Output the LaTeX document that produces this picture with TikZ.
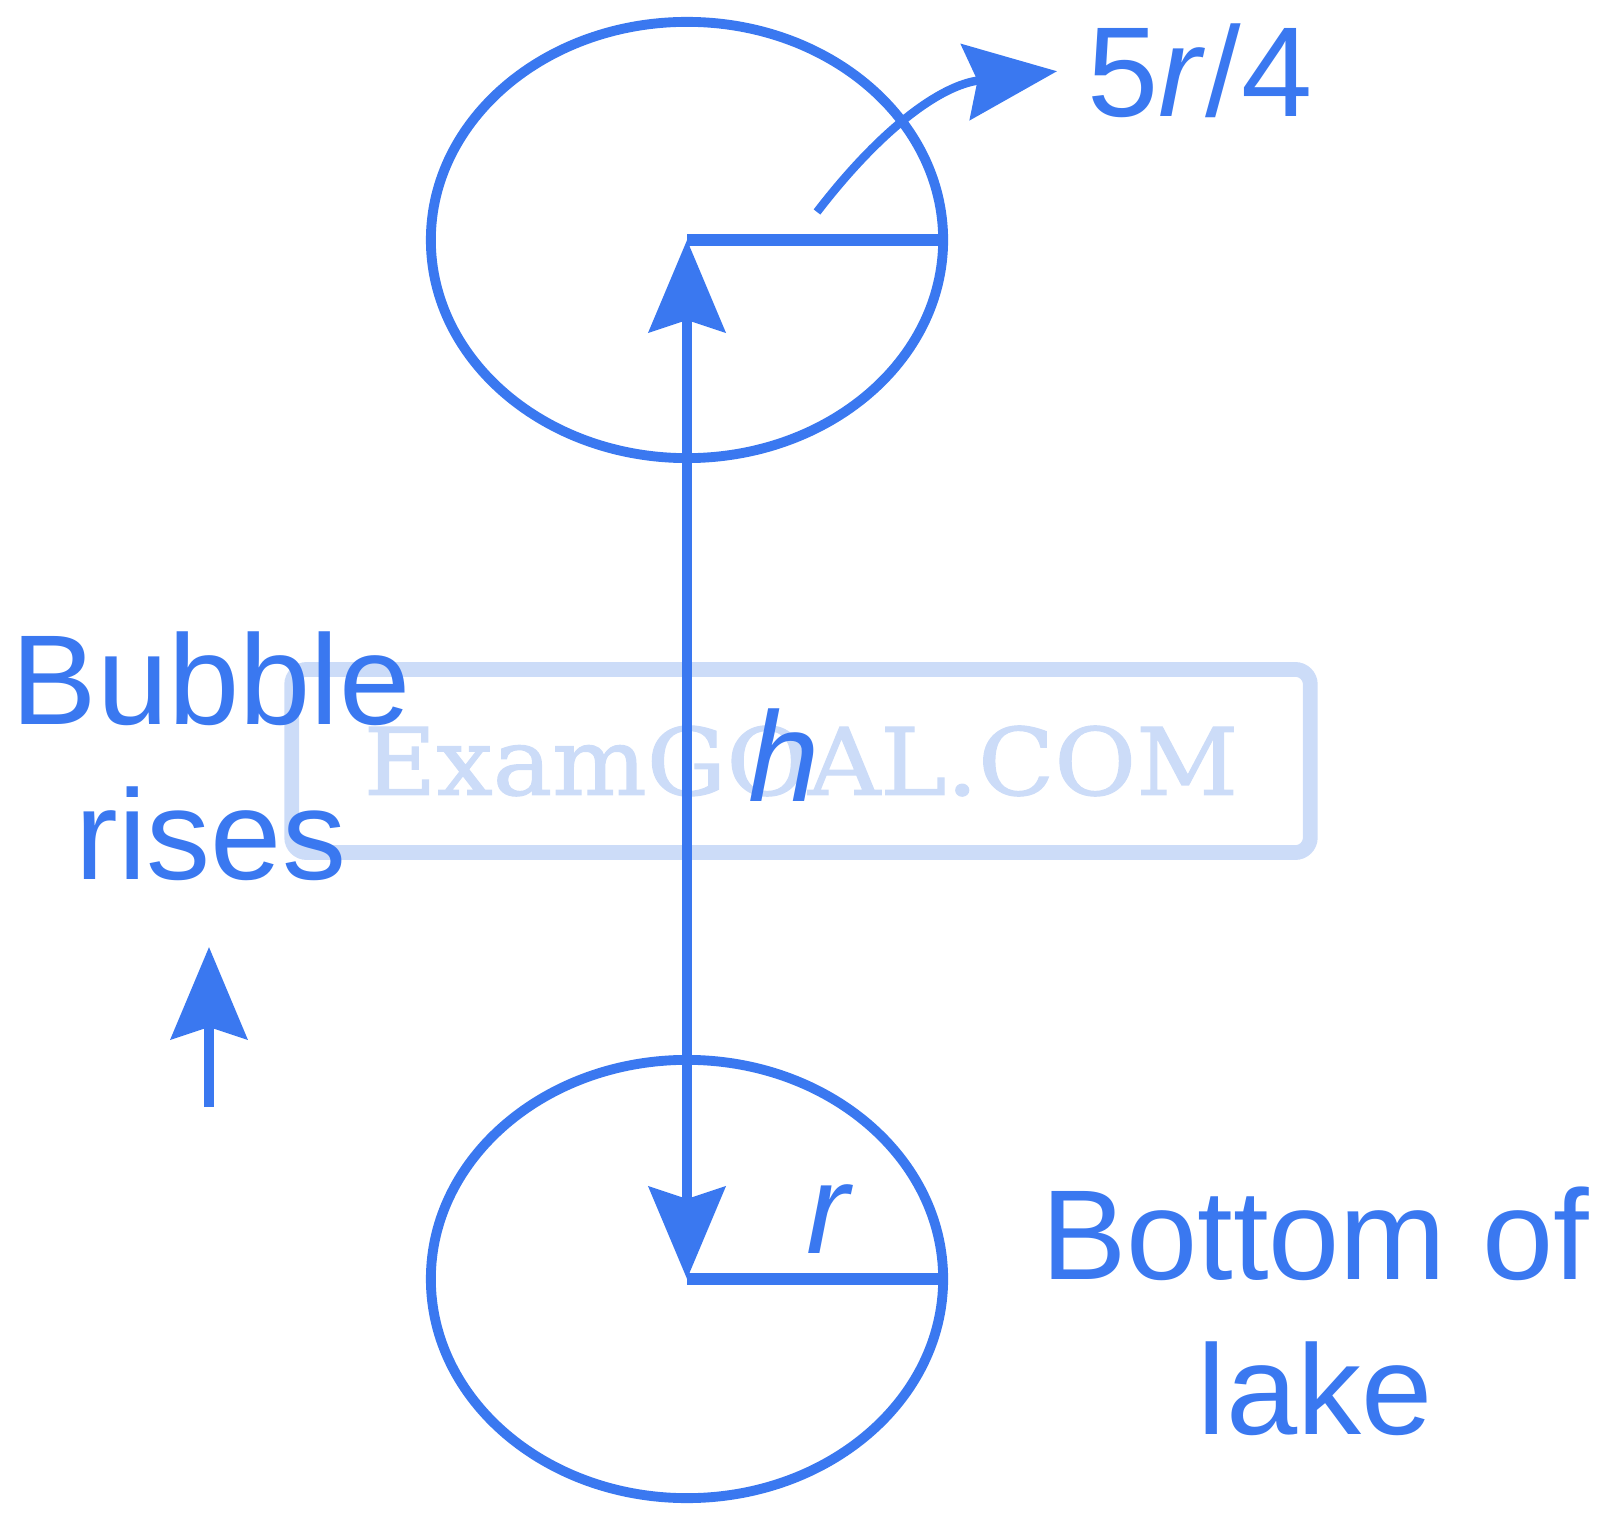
\documentclass[tikz,border=0pt]{standalone}
\usepackage{fontspec}
\setmainfont{Liberation Sans}
\newfontfamily\wmfont[FakeBold=1.2]{DejaVu Serif}
\usetikzlibrary{arrows.meta,shapes.geometric}
\definecolor{inkblue}{RGB}{58,120,240}
\definecolor{wmblue}{RGB}{204,220,248}

\begin{document}
\begin{tikzpicture}[x=0.01cm, y=-0.01cm,
  every node/.style={text=inkblue, font=\fontsize{36.4}{44}\selectfont},
  bubble/.style={draw=inkblue, ellipse, line width=2.8pt, inner sep=0},
  bigtip/.style={-{Stealth[length=0.92cm, width=0.76cm, inset=0.12cm]}}]
\useasboundingbox (0,0) rectangle (1600,1522);
%watermark
\node[draw=wmblue, text=wmblue, line width=4.2pt, rounded corners=0.15cm,
  minimum width=10.18cm, minimum height=1.83cm,
  font=\wmfont\fontsize{26.5}{30}\selectfont] at (801,761) (wmark)
  {\scalebox{1.07}[1]{ExamGOAL.COM}};
%bubbles
\node[bubble, minimum width=5.12cm, minimum height=4.36cm] at (687,240) (top) {};
\node[bubble, minimum width=5.12cm, minimum height=4.38cm] at (687,1279) (bot) {};
\draw[inkblue, line width=3.5pt] (top.center) -- (top.east);
\draw[inkblue, line width=3.5pt] (bot.center) -- (bot.east);
%depth between centres
\draw[inkblue, line width=3pt,
  {Stealth[length=0.92cm, width=0.76cm, inset=0.12cm]}-{Stealth[length=0.92cm, width=0.76cm, inset=0.12cm]}]
  (top.center) -- (bot.center);
\node[anchor=base] at (784,801) (hlbl) {\textit{h}};
\node[anchor=base] at (830,1253) (rlbl) {\textit{r}};
%radius of the risen bubble
\node[anchor=base west, inner sep=0.3cm] at (1057,117) (rtop) {5\textit{r}/4};
\coordinate (rtail) at (817,212);
\draw[inkblue, line width=2.4pt, bigtip] (rtail) .. controls (880,130) and (940,85) .. (rtop.west);
%side labels
\node[align=center] at (211,756) (rises) {Bubble\\rises};
\coordinate (upfoot) at (209,1107);
\coordinate (uptip) at (209,947);
\draw[inkblue, line width=2.8pt, bigtip] (upfoot) -- (uptip);
\node[align=center] at (1315,1311) (lake) {Bottom of\\lake};
\end{tikzpicture}
\end{document}
